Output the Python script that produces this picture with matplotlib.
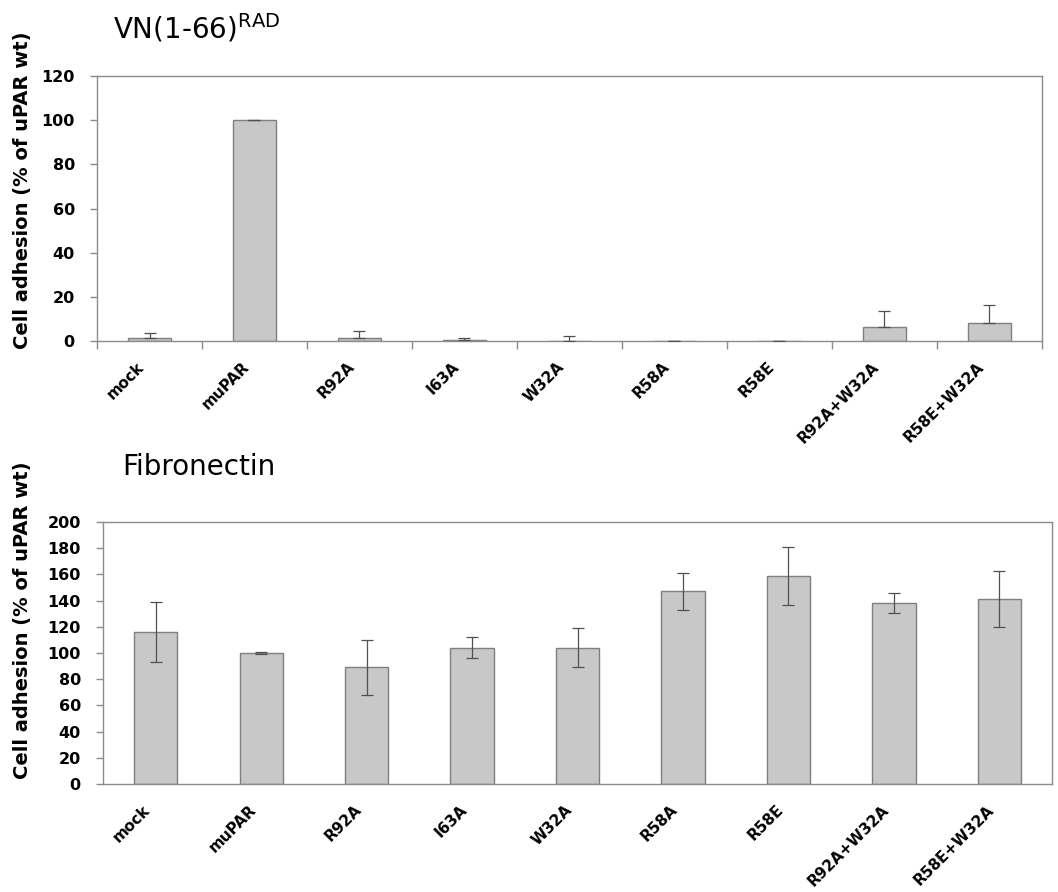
import matplotlib
matplotlib.use("Agg")
import matplotlib.pyplot as plt
import matplotlib.transforms as mtransforms
import numpy as np

# mutants tested in the adhesion assay
mutants = ["mock", "muPAR", "R92A", "I63A", "W32A", "R58A", "R58E",
           "R92A+W32A", "R58E+W32A"]

# adhesion to VN(1-66)RAD, % of uPAR wt
vn_mean = [1.5, 100, 1.5, 0.3, 0.2, 0, 0, 6.5, 8]
vn_err = [2.2, 0.2, 3.2, 1.0, 2.2, 0, 0, 7, 8.5]

# adhesion to fibronectin, % of uPAR wt
fn_mean = [116, 100, 89, 104, 104, 147, 159, 138, 141]
fn_err = [23, 0.5, 21, 8, 15, 14, 22, 7.5, 21.5]

bar_face = "#c8c8c8"
bar_edge = "#7f7f7f"
axis_grey = "#8c8c8c"
err_grey = "#505050"

fig = plt.figure(figsize=(10.58, 8.92), dpi=100)


def draw_panel(ax, means, errs, ymax, ystep, upper_only, boundary_ticks):
    x = np.arange(len(mutants))
    ax.bar(x, means, width=0.41, color=bar_face, edgecolor=bar_edge,
           linewidth=1.0, zorder=2)
    if upper_only:
        yerr = [np.zeros(len(errs)), errs]
    else:
        yerr = errs
    ax.errorbar(x, means, yerr=yerr, fmt="none", ecolor=err_grey,
                elinewidth=0.9, capsize=4, capthick=0.9, zorder=3)
    ax.set_xlim(-0.5, len(mutants) - 0.5)
    ax.set_ylim(0, ymax)
    ax.set_yticks(np.arange(0, ymax + 1, ystep))
    ax.set_xticks(x)
    ax.tick_params(axis="x", which="major", length=0, pad=13)
    ax.tick_params(axis="y", length=5, color=axis_grey, width=1, pad=11)
    if boundary_ticks:
        ax.set_xticks(np.arange(-0.5, len(mutants), 1), minor=True)
        ax.tick_params(axis="x", which="minor", length=6, color=axis_grey,
                       width=1)
    ax.set_xticklabels(mutants, rotation=45, ha="right", va="top",
                       rotation_mode="anchor", fontsize=11, fontweight="bold")
    # pull the slanted labels a little to the left of the bar centre
    shift = mtransforms.ScaledTranslation(-13 / 100, 0, fig.dpi_scale_trans)
    for lab in ax.get_xticklabels():
        lab.set_transform(lab.get_transform() + shift)
    for lab in ax.get_yticklabels():
        lab.set_fontweight("bold")
        lab.set_fontsize(11.5)
    for sp in ax.spines.values():
        sp.set_color(axis_grey)
        sp.set_linewidth(1.0)


ax1 = fig.add_axes([0.0917, 0.6177, 0.893, 0.297])
draw_panel(ax1, vn_mean, vn_err, 120, 20, True, True)

ax2 = fig.add_axes([0.0974, 0.1211, 0.897, 0.2937])
draw_panel(ax2, fn_mean, fn_err, 200, 20, False, False)

fig.text(0.107, 0.9686, r"VN(1-66)$^{\mathregular{RAD}}$", fontsize=20,
         va="center", ha="left")
fig.text(0.116, 0.4765, "Fibronectin", fontsize=20, va="center", ha="left")

fig.text(0.021, 0.787, "Cell adhesion (% of uPAR wt)", rotation=90,
         fontsize=14, fontweight="bold", va="center", ha="center")
fig.text(0.021, 0.305, "Cell adhesion (% of uPAR wt)", rotation=90,
         fontsize=14, fontweight="bold", va="center", ha="center")

fig.savefig("out.png", dpi=100)
